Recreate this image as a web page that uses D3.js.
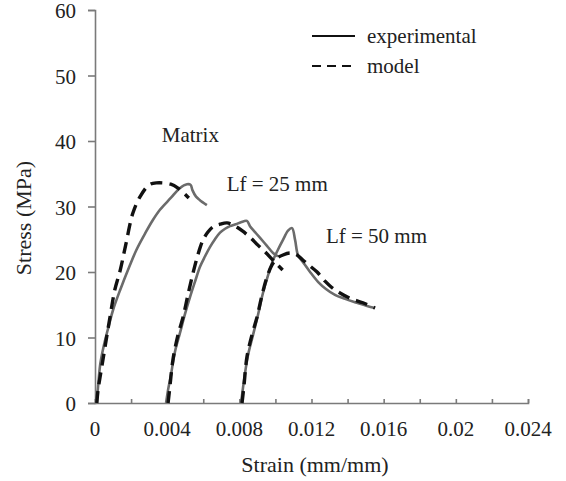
<!DOCTYPE html>
<html>
<head>
<meta charset="utf-8">
<script src="https://cdn.jsdelivr.net/npm/d3@7"></script>
<style>
  body { margin: 0; background: #fff; }
  svg { display: block; }
  svg text { font-family: "Liberation Serif", "Times New Roman", serif; }
</style>
</head>
<body>
<div id="chart"></div>
<script>
const width = 566,
height = 481,
margin = ({ top: 10, right: 38, bottom: 78, left: 95 });

// strain (mm/mm), stress (MPa)
const matrixExp = [[0.0001,0],[0.0002,3.5],[0.0003,6.1],[0.0005,8.9],[0.0007,11.1],[0.001,14.2],[0.0014,17.3],
  [0.0019,20.8],[0.0023,23.4],[0.0028,26.0],[0.0032,27.9],[0.0036,29.5],[0.0042,31.3],[0.0047,32.8],
  [0.0051,33.4],[0.0053,33.3],[0.0054,32.5],[0.0056,31.5],[0.0058,31.0],[0.0062,30.2]];
const matrixModel = [[0.0001,0],[0.00017,2.0],[0.00044,6.6],[0.00083,13.1],[0.0011,17.3],[0.0014,20.3],[0.0017,24.1],
  [0.0021,29.0],[0.0025,31.5],[0.0030,33.3],[0.0034,33.6],[0.0042,33.4],[0.0046,32.8],[0.0052,31.3]];
const lf25Exp = [[0.00394,0],[0.00405,2.0],[0.00421,4.3],[0.00443,7.8],[0.00471,10.7],[0.00499,13.6],[0.00527,16.2],
  [0.00554,18.5],[0.00582,20.8],[0.0061,22.4],[0.00637,23.8],[0.00665,25.0],[0.00693,26.0],[0.00721,26.6],
  [0.00748,27.0],[0.00781,27.3],[0.00809,27.6],[0.00842,27.8],[0.00859,27.0],[0.00887,26.1],[0.00915,25.2],
  [0.00953,24.0],[0.00987,22.9],[0.01014,22.4]];
const lf25Model = [[0.00405,0],[0.00416,2.7],[0.00432,6.6],[0.0046,10.4],[0.00488,13.1],[0.00515,16.5],[0.00543,19.8],
  [0.0057,22.6],[0.00599,24.9],[0.00626,26.1],[0.00654,26.9],[0.00693,27.3],[0.00732,27.5],[0.00776,27.0],
  [0.00815,26.3],[0.00859,25.3],[0.00903,24.1],[0.00942,23.1],[0.00987,21.8],[0.0104,20.3]];
const lf50Exp = [[0.0081,0],[0.00826,3.5],[0.00848,7.3],[0.00876,10.4],[0.00903,13.4],[0.00931,16.8],[0.00959,19.5],
  [0.00987,21.8],[0.01014,23.4],[0.01042,24.9],[0.0107,26.3],[0.01092,26.7],[0.01109,24.9],[0.01125,22.6],
  [0.01153,21.5],[0.01192,20.0],[0.01236,18.5],[0.0128,17.4],[0.0133,16.5],[0.01386,15.9],[0.01452,15.3],
  [0.01508,14.8],[0.01552,14.5]];
const lf50Model = [[0.00815,0],[0.00826,2.7],[0.00842,7.0],[0.0087,10.4],[0.00898,13.1],[0.00926,16.5],[0.00953,19.2],
  [0.00981,21.1],[0.01009,22.1],[0.01042,22.6],[0.01081,22.9],[0.01114,22.7],[0.01153,21.8],[0.01192,20.9],
  [0.01231,20.0],[0.01275,18.6],[0.01314,17.6],[0.01358,16.8],[0.01413,16.0],[0.01485,15.3],[0.01552,14.5]];

const xTicks = [0, 0.004, 0.008, 0.012, 0.016, 0.02, 0.024];
const xMinorTicks = d3.range(0, 0.0241, 0.002);
const yTicks = [0, 10, 20, 30, 40, 50, 60];
const curveLabels = [["Matrix", 0.0037, 39.8], ["Lf = 25 mm", 0.0073, 32.3], ["Lf = 50 mm", 0.0128, 24.4]];
const legendItems = [["experimental", "solid"], ["model", "dashed"]];

const svg = d3.select("#chart")
  .append("svg")
  .attr("width", width)
  .attr("height", height);

const x = d3.scaleLinear().domain([0, 0.024]).range([margin.left, width - margin.right]);
const y = d3.scaleLinear().domain([0, 60]).range([height - margin.bottom, margin.top]);

const axisColor = "#7a7a7a";

// x axis: small ticks every 0.002 pointing up, labels every 0.004
const gx = svg.append("g")
  .attr("transform", `translate(0,${y(0)})`)
  .call(d3.axisBottom(x).tickValues(xMinorTicks).tickSize(-4).tickFormat(""));
gx.selectAll("line, path").attr("stroke", axisColor).attr("stroke-width", 1.6);

svg.append("g")
  .selectAll("text")
  .data(xTicks)
  .join("text")
  .attr("x", d => x(d))
  .attr("y", y(0) + 33)
  .attr("text-anchor", "middle")
  .attr("font-size", 21)
  .attr("fill", "#222")
  .text(d => d);

const gy = svg.append("g")
  .attr("transform", `translate(${x(0)},0)`)
  .call(d3.axisLeft(y).tickValues(yTicks).tickSize(7).tickPadding(12).tickSizeOuter(7));
gy.attr("font-family", null).attr("font-size", null);
gy.selectAll("line, path").attr("stroke", axisColor).attr("stroke-width", 1.6);
gy.selectAll("text").attr("font-size", 21).attr("fill", "#222").attr("dy", "0.36em");

svg.append("text")
  .attr("x", 315)
  .attr("y", 472)
  .attr("text-anchor", "middle")
  .attr("font-size", 22)
  .attr("fill", "#222")
  .text("Strain (mm/mm)");

svg.append("text")
  .attr("transform", "translate(31,218) rotate(-90)")
  .attr("text-anchor", "middle")
  .attr("font-size", 22)
  .attr("fill", "#222")
  .text("Stress (MPa)");

const line = d3.line().x(d => x(d[0])).y(d => y(d[1])).curve(d3.curveCatmullRom.alpha(0.5));

const expCurves = [matrixExp, lf25Exp, lf50Exp];
const modelCurves = [matrixModel, lf25Model, lf50Model];

svg.append("g")
  .selectAll("path")
  .data(expCurves)
  .join("path")
  .attr("d", line)
  .attr("fill", "none")
  .attr("stroke", "#6b6b6b")
  .attr("stroke-width", 2.6)
  .attr("stroke-linejoin", "round");

svg.append("g")
  .selectAll("path")
  .data(modelCurves)
  .join("path")
  .attr("d", line)
  .attr("fill", "none")
  .attr("stroke", "#111")
  .attr("stroke-width", 3.4)
  .attr("stroke-dasharray", "12,7");

svg.append("g")
  .selectAll("text")
  .data(curveLabels)
  .join("text")
  .attr("x", d => x(d[1]))
  .attr("y", d => y(d[2]))
  .attr("font-size", 21)
  .attr("fill", "#222")
  .text(d => d[0]);

// legend
const legend = svg.append("g")
  .selectAll("g")
  .data(legendItems)
  .join("g")
  .attr("transform", (d, i) => `translate(312,${36 + i * 30})`);

legend.append("line")
  .attr("x1", 0).attr("x2", 43)
  .attr("stroke", "#111")
  .attr("stroke-width", 2)
  .attr("stroke-dasharray", d => d[1] === "dashed" ? "9,6" : null);

legend.append("text")
  .attr("x", 55)
  .attr("y", 7)
  .attr("font-size", 21)
  .attr("fill", "#222")
  .text(d => d[0]);
</script>
</body>
</html>
